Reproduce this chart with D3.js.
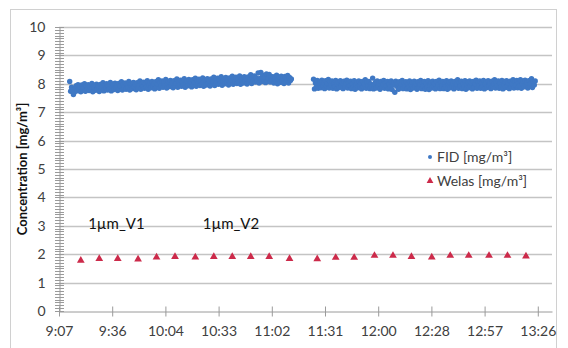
<!DOCTYPE html>
<html>
<head>
<meta charset="utf-8">
<script src="https://cdn.jsdelivr.net/npm/d3@7"></script>
<style>
  body { margin: 0; background: #fff; }
  svg { display: block; font-family: Lato, "Open Sans", sans-serif; }
</style>
</head>
<body>
<script>
// Axis ticks
const xTickLabels = ["9:07", "9:36", "10:04", "10:33", "11:02", "11:31", "12:00", "12:28", "12:57", "13:26"];
const yTicks = [0, 1, 2, 3, 4, 5, 6, 7, 8, 9, 10];

// FID logger, one reading every 30 s
const fidStep = 30; // seconds
const fidStart1 = "9:13:00";
const fidValues1 = [
  8.08,7.74,7.88,7.79,7.62,7.70,7.86,7.93,7.75,7.97,7.81,7.90,7.72,7.96,7.78,7.87,8.00,7.74,7.92,7.82,
  7.97,7.76,7.90,7.80,8.01,7.72,7.89,7.95,7.77,7.99,7.83,7.92,7.73,7.98,7.79,7.89,8.04,7.75,7.94,7.84,
  8.00,7.78,7.93,7.83,8.05,7.75,7.91,7.98,7.80,8.02,7.86,7.95,7.76,8.01,7.82,7.92,8.07,7.78,7.97,7.87,
  8.03,7.81,7.96,7.86,8.08,7.78,7.94,8.01,7.83,8.05,7.89,7.98,7.79,8.04,7.85,7.95,8.10,7.81,8.00,7.90,
  8.06,7.84,7.99,7.89,8.11,7.81,7.97,8.04,7.86,8.08,7.92,8.01,7.82,8.07,7.88,7.98,8.14,7.84,8.03,7.93,
  8.10,7.88,8.03,7.93,8.15,7.85,8.01,8.08,7.90,8.12,7.96,8.05,7.86,8.11,7.92,8.02,8.17,7.88,8.07,7.97,
  8.13,7.91,8.06,7.96,8.18,7.88,8.04,8.11,7.93,8.15,7.99,8.08,7.89,8.14,7.95,8.05,8.20,7.91,8.10,8.00,
  8.16,7.94,8.09,7.99,8.21,7.91,8.07,8.14,7.96,8.18,8.02,8.11,7.92,8.17,7.98,8.08,8.23,7.94,8.13,8.03,
  8.20,7.98,8.13,8.03,8.25,7.95,8.11,8.18,8.00,8.22,8.06,8.15,7.96,8.21,8.02,8.12,8.27,7.98,8.17,8.07,
  8.23,8.01,8.16,8.06,8.28,7.98,8.14,8.21,8.03,8.25,8.09,8.18,7.99,8.24,8.05,8.15,8.32,8.01,8.20,8.10,
  8.28,8.06,8.21,8.11,8.38,8.03,8.19,8.40,8.08,8.30,8.14,8.23,8.04,8.35,8.10,8.20,8.33,8.06,8.25,8.15,
  8.25,8.03,8.18,8.08,8.30,8.00,8.16,8.23,8.05,8.27,8.11,8.20,8.01,8.26,8.07,8.17,8.29,8.03,8.22,8.12,8.17
];
const fidStart2 = "11:25:00";
const fidValues2 = [
  8.16,7.82,8.03,7.89,8.12,7.84,8.00,8.08,7.86,8.13,7.94,8.04,7.83,8.11,7.91,8.01,8.15,7.85,8.07,7.96,
  8.10,7.84,8.01,7.90,8.12,7.82,7.99,8.07,7.87,8.11,7.93,8.03,7.83,8.09,7.89,8.00,8.13,7.85,8.06,7.94,
  8.09,7.83,8.00,7.89,8.11,7.81,7.98,8.06,7.86,8.10,7.92,8.02,7.82,8.08,7.88,7.99,8.14,7.84,8.05,7.93,
  8.08,7.83,7.99,7.89,8.20,7.82,7.98,8.06,7.85,8.10,7.92,8.01,7.81,8.08,7.88,7.99,8.12,7.84,8.05,7.93,
  8.08,7.82,7.99,7.88,8.10,7.80,7.97,8.05,7.70,8.09,7.91,8.01,7.81,8.07,7.87,7.98,8.12,7.83,8.04,7.92,
  8.07,7.82,7.98,7.88,8.10,7.80,7.97,8.05,7.85,8.09,7.91,8.00,7.81,8.07,7.87,7.98,8.12,7.83,8.04,7.92,
  8.08,7.81,7.99,7.88,8.11,7.80,7.96,8.06,7.85,8.09,7.91,8.01,7.82,8.08,7.87,7.97,8.13,7.83,8.04,7.92,
  8.08,7.83,7.99,7.89,8.11,7.81,7.98,8.06,7.86,8.10,7.92,8.02,7.82,8.08,7.88,7.99,8.14,7.84,8.05,7.93,
  8.09,7.83,8.00,7.89,8.11,7.81,7.98,8.07,7.86,8.10,7.92,8.02,7.82,8.08,7.88,7.99,8.13,7.84,8.06,7.93,
  8.10,7.84,8.01,7.90,8.12,7.82,7.99,8.07,7.87,8.11,7.93,8.03,7.83,8.09,7.89,8.00,8.14,7.85,8.06,7.94,
  8.10,7.84,8.01,7.90,8.12,7.82,7.99,8.08,7.87,8.11,7.93,8.03,7.83,8.09,7.89,8.00,8.14,7.85,8.07,7.94,
  8.12,7.86,8.03,7.92,8.14,7.84,8.01,8.09,7.89,8.13,7.95,8.05,7.85,8.11,7.91,8.02,8.18,7.87,8.08,7.96,8.10
];

// Welas
const welasTimes = ["9:19", "9:29", "9:39", "9:50", "10:00", "10:10", "10:21", "10:31", "10:41", "10:51", "11:01", "11:12",
                    "11:27", "11:37", "11:47", "11:58", "12:08", "12:18", "12:29", "12:39", "12:49", "13:00", "13:10", "13:20"];
const welasValues = [1.78, 1.84, 1.84, 1.82, 1.89, 1.91, 1.89, 1.91, 1.91, 1.91, 1.91, 1.84,
                     1.83, 1.88, 1.88, 1.95, 1.95, 1.91, 1.89, 1.95, 1.95, 1.95, 1.95, 1.93];

// Annotations
const notes = [{ text: "1µm_V1", time: "9:23" }, { text: "1µm_V2", time: "10:25" }];
const noteValue = 3.0;

const legendItems = ["FID [mg/m³]", "Welas [mg/m³]"];
const yLabel = "Concentration [mg/m³]";

// time string -> fraction of a day (same unit as the Excel axis)
function dayFrac(s) {
  const p = s.split(":").map(Number);
  return (p[0] * 3600 + p[1] * 60 + (p[2] || 0)) / 86400;
}

const w = 568, h = 348;
const plotLeft = 59, plotRight = 552, plotTop = 27, plotBottom = 311;
const blue = "#3f78c4", red = "#cc2a4a", textColor = "#404040";

const x = d3.scaleLinear().domain([0.38, 0.56534]).range([plotLeft, plotRight]);
const y = d3.scaleLinear().domain([0, 10]).range([plotBottom, plotTop]);

const svg = d3.select("body").append("svg").attr("width", w).attr("height", h);

// chart frame
svg.append("rect")
  .attr("x", 10.5).attr("y", 9.5)
  .attr("width", 546).attr("height", 350)
  .attr("fill", "none").attr("stroke", "#d0d0d0");

// gridlines
svg.append("g")
  .selectAll("line")
  .data(yTicks.filter(d => d > 0))
  .enter().append("line")
  .attr("x1", plotLeft).attr("x2", plotRight)
  .attr("y1", d => Math.round(y(d)) + 0.5).attr("y2", d => Math.round(y(d)) + 0.5)
  .attr("stroke", "#c4c4c4").attr("stroke-width", 1.3);

// y axis
const yAxis = svg.append("g")
  .attr("transform", `translate(${plotLeft + 0.5},0)`)
  .call(d3.axisLeft(y).tickValues(yTicks).tickSize(0).tickPadding(14));
yAxis.select(".domain").attr("stroke", "#9a9a9a");
yAxis.selectAll("text").attr("font-size", 14).attr("fill", textColor).attr("font-family", "Lato");

// minor ticks crossing the y axis
svg.append("g")
  .selectAll("line")
  .data(d3.range(0, 100.5, 1).map(d => d / 10))
  .enter().append("line")
  .attr("x1", plotLeft - 4).attr("x2", plotLeft + 5)
  .attr("y1", d => Math.round(y(d)) + 0.5).attr("y2", d => Math.round(y(d)) + 0.5)
  .attr("stroke", "#9a9a9a");

// x axis
const xTickValues = xTickLabels.map(dayFrac).map(d => Math.round(d * 50) / 50);
const xAxis = svg.append("g")
  .attr("transform", `translate(0,${Math.round(y(0)) + 0.5})`)
  .call(d3.axisBottom(x).tickValues(xTickValues).tickFormat((d, i) => xTickLabels[i])
    .tickSizeInner(5).tickSizeOuter(0).tickPadding(10));
xAxis.select(".domain").attr("stroke", "#9a9a9a");
xAxis.selectAll(".tick line").attr("stroke", "#9a9a9a").attr("y1", -5);
xAxis.selectAll("text").attr("font-size", 14).attr("fill", textColor).attr("font-family", "Lato");

// FID scatter
function fidPoints(start, values) {
  const t0 = dayFrac(start);
  return values.map((v, i) => ({ t: t0 + i * fidStep / 86400, v }));
}
const fid = fidPoints(fidStart1, fidValues1).concat(fidPoints(fidStart2, fidValues2));
svg.append("g")
  .selectAll("circle")
  .data(fid)
  .enter().append("circle")
  .attr("cx", d => x(d.t)).attr("cy", d => y(d.v))
  .attr("r", 2.7)
  .attr("fill", blue);

// Welas triangles
const tri = d3.symbol().type(d3.symbolTriangle).size(26);
svg.append("g")
  .selectAll("path")
  .data(welasValues)
  .enter().append("path")
  .attr("d", tri)
  .attr("transform", (d, i) => `translate(${x(dayFrac(welasTimes[i]))},${y(d)})`)
  .attr("fill", red);

// annotations
svg.append("g")
  .selectAll("text")
  .data(notes)
  .enter().append("text")
  .attr("x", d => x(dayFrac(d.time)))
  .attr("y", y(noteValue) + 3)
  .attr("font-size", 15)
  .attr("fill", "#111")
  .text(d => d.text);

// y label
svg.append("text")
  .attr("transform", `translate(27,${(plotTop + plotBottom) / 2}) rotate(-90)`)
  .attr("text-anchor", "middle")
  .attr("font-size", 13)
  .attr("font-weight", "bold")
  .attr("fill", "#111")
  .text(yLabel);

// legend
const legend = svg.append("g").attr("transform", "translate(430,157)");
legend.append("circle").attr("cx", 0).attr("cy", 0).attr("r", 2).attr("fill", blue);
legend.append("path").attr("d", d3.symbol().type(d3.symbolTriangle).size(20))
  .attr("transform", "translate(0,24)").attr("fill", red);
legend.selectAll("text")
  .data(legendItems)
  .enter().append("text")
  .attr("x", 7)
  .attr("y", (d, i) => i * 24 + 5)
  .attr("font-size", 14)
  .attr("fill", textColor)
  .text(d => d);
</script>
</body>
</html>
